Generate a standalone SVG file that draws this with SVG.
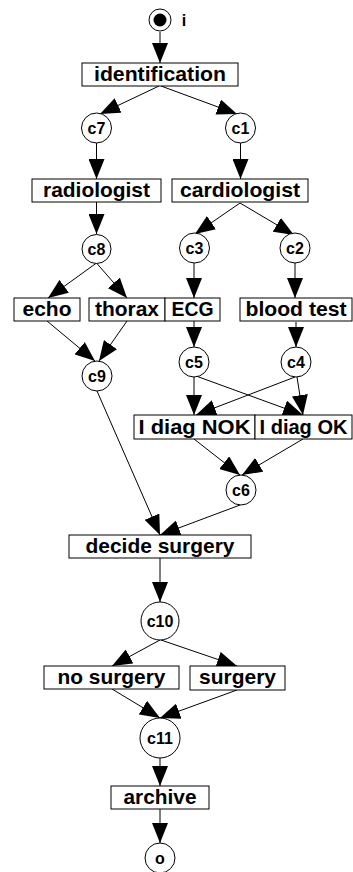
<svg xmlns="http://www.w3.org/2000/svg" width="353" height="872" viewBox="0 0 353 872">
<style>
.box{fill:#fff;stroke:#000;stroke-width:1}
.pl{fill:#fff;stroke:#000;stroke-width:1}
.bt{font-family:"Liberation Sans",Arial,sans-serif;font-weight:bold;font-size:20.5px;text-anchor:middle;fill:#000}
.ct{font-family:"Liberation Sans",Arial,sans-serif;font-weight:bold;font-size:16px;text-anchor:middle;fill:#000}
.e{stroke:#000;stroke-width:1;fill:none;marker-end:url(#ah)}
</style>
<defs>
<marker id="ah" markerUnits="userSpaceOnUse" markerWidth="20" markerHeight="16" refX="20" refY="8" orient="auto">
<path d="M0,0 L20,8 L0,16 z" fill="#000"/>
</marker>
</defs>
<rect width="353" height="872" fill="#fff"/>
<g id="edges">
<line class="e" x1="160" y1="32" x2="160" y2="63"/>
<line class="e" x1="159" y1="86" x2="100" y2="114"/>
<line class="e" x1="161" y1="86" x2="237" y2="114"/>
<line class="e" x1="96.5" y1="143" x2="96.5" y2="179"/>
<line class="e" x1="240.5" y1="143" x2="240.5" y2="179"/>
<line class="e" x1="96.5" y1="202" x2="96.5" y2="234"/>
<line class="e" x1="240" y1="203" x2="195" y2="234"/>
<line class="e" x1="240" y1="203" x2="294" y2="235"/>
<line class="e" x1="96.5" y1="263" x2="48" y2="298"/>
<line class="e" x1="96.5" y1="263" x2="127" y2="298"/>
<line class="e" x1="194" y1="263" x2="194" y2="298"/>
<line class="e" x1="295" y1="263" x2="295" y2="298"/>
<line class="e" x1="47" y1="321" x2="95" y2="361"/>
<line class="e" x1="127" y1="321" x2="99" y2="361"/>
<line class="e" x1="194" y1="321" x2="194" y2="347"/>
<line class="e" x1="296" y1="322" x2="296" y2="347"/>
<line class="e" x1="194" y1="377" x2="194" y2="415"/>
<line class="e" x1="196" y1="376" x2="303" y2="415"/>
<line class="e" x1="295" y1="377" x2="196" y2="415"/>
<line class="e" x1="297" y1="377" x2="303" y2="415"/>
<line class="e" x1="194" y1="439" x2="240" y2="475"/>
<line class="e" x1="303" y1="439" x2="242" y2="475"/>
<line class="e" x1="97" y1="391" x2="160" y2="535"/>
<line class="e" x1="240" y1="505" x2="160" y2="535"/>
<line class="e" x1="160" y1="558" x2="160" y2="602"/>
<line class="e" x1="160" y1="640" x2="112" y2="666"/>
<line class="e" x1="161" y1="640" x2="237" y2="666"/>
<line class="e" x1="112" y1="689" x2="160" y2="718"/>
<line class="e" x1="237" y1="690" x2="160" y2="718"/>
<line class="e" x1="160" y1="758" x2="160" y2="786"/>
<line class="e" x1="160" y1="809" x2="160" y2="843"/>
</g>
<g id="i"><circle class="pl" cx="160" cy="20" r="11"/><circle cx="160" cy="20" r="6.5" fill="#000"/><text class="ct" x="184" y="26">i</text></g>
<g id="identification"><rect class="box" x="82" y="63" width="156" height="23"/><text class="bt" x="160" y="81" textLength="132" lengthAdjust="spacingAndGlyphs">identification</text></g>
<g id="c7"><circle class="pl" cx="96.5" cy="128" r="15"/><text class="ct" x="96.5" y="133.5">c7</text></g>
<g id="c1"><circle class="pl" cx="240.5" cy="128" r="15"/><text class="ct" x="240.5" y="133.5">c1</text></g>
<g id="radiologist"><rect class="box" x="32" y="179" width="129" height="23"/><text class="bt" x="96.5" y="197" textLength="107" lengthAdjust="spacingAndGlyphs">radiologist</text></g>
<g id="cardiologist"><rect class="box" x="172" y="179" width="136" height="23"/><text class="bt" x="240" y="197" textLength="120" lengthAdjust="spacingAndGlyphs">cardiologist</text></g>
<g id="c8"><circle class="pl" cx="96.5" cy="249" r="14.5"/><text class="ct" x="96.5" y="254.5">c8</text></g>
<g id="c3"><circle class="pl" cx="194.5" cy="248" r="15"/><text class="ct" x="194.5" y="253.5">c3</text></g>
<g id="c2"><circle class="pl" cx="295" cy="248" r="15"/><text class="ct" x="295" y="253.5">c2</text></g>
<g id="echo"><rect class="box" x="14" y="298" width="66" height="23"/><text class="bt" x="47" y="316" textLength="49" lengthAdjust="spacingAndGlyphs">echo</text></g>
<g id="thorax"><rect class="box" x="89" y="298" width="76" height="23"/><text class="bt" x="127" y="316" textLength="64" lengthAdjust="spacingAndGlyphs">thorax</text></g>
<g id="ECG"><rect class="box" x="165" y="298" width="55" height="23"/><text class="bt" x="192.5" y="316" textLength="42" lengthAdjust="spacingAndGlyphs">ECG</text></g>
<g id="blood_test"><rect class="box" x="240" y="298" width="112" height="23"/><text class="bt" x="296" y="316" textLength="101" lengthAdjust="spacingAndGlyphs">blood test</text></g>
<g id="c9"><circle class="pl" cx="97" cy="376" r="15"/><text class="ct" x="97" y="381.5">c9</text></g>
<g id="c5"><circle class="pl" cx="194" cy="362" r="15"/><text class="ct" x="194" y="367.5">c5</text></g>
<g id="c4"><circle class="pl" cx="296" cy="362" r="15"/><text class="ct" x="296" y="367.5">c4</text></g>
<g id="I_diag_NOK"><rect class="box" x="134" y="415" width="121" height="24"/><text class="bt" x="194.5" y="433.5" textLength="112" lengthAdjust="spacingAndGlyphs">I diag NOK</text></g>
<g id="I_diag_OK"><rect class="box" x="255" y="415" width="97" height="24"/><text class="bt" x="303.5" y="433.5" textLength="88" lengthAdjust="spacingAndGlyphs">I diag OK</text></g>
<g id="c6"><circle class="pl" cx="241" cy="490" r="15"/><text class="ct" x="241" y="495.5">c6</text></g>
<g id="decide_surgery"><rect class="box" x="69" y="535" width="182" height="23"/><text class="bt" x="160" y="553" textLength="149" lengthAdjust="spacingAndGlyphs">decide surgery</text></g>
<g id="c10"><circle class="pl" cx="160" cy="621" r="19"/><text class="ct" x="160" y="626.5">c10</text></g>
<g id="no_surgery"><rect class="box" x="44" y="666" width="135" height="23"/><text class="bt" x="111.5" y="684" textLength="108" lengthAdjust="spacingAndGlyphs">no surgery</text></g>
<g id="surgery"><rect class="box" x="190" y="666" width="95" height="24"/><text class="bt" x="237.5" y="684" textLength="77" lengthAdjust="spacingAndGlyphs">surgery</text></g>
<g id="c11"><circle class="pl" cx="160" cy="738" r="20"/><text class="ct" x="160" y="743.5">c11</text></g>
<g id="archive"><rect class="box" x="111" y="786" width="98" height="23"/><text class="bt" x="160" y="804" textLength="73" lengthAdjust="spacingAndGlyphs">archive</text></g>
<g id="o"><circle class="pl" cx="160" cy="858" r="15"/><text class="ct" x="160" y="863.5">o</text></g>
</svg>
